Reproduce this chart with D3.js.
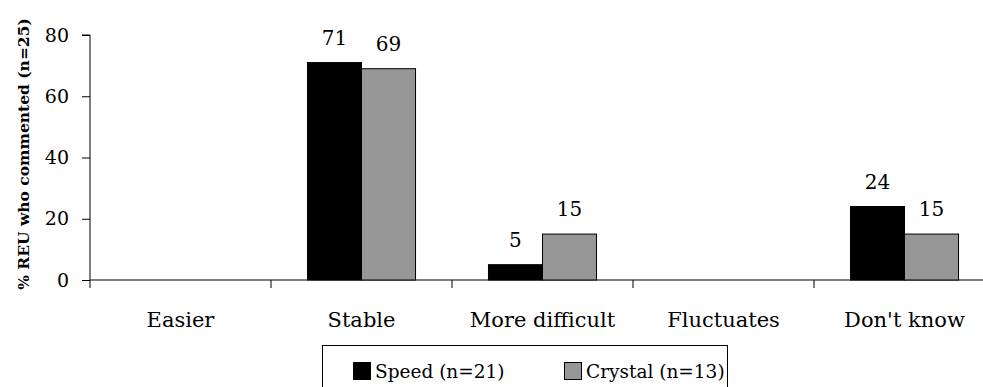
<!DOCTYPE html>
<html lang="en">
<head>
  <meta charset="UTF-8">
  <title>REU comments</title>
  <script src="https://d3js.org/d3.v7.min.js"></script>
  <style>
    body { margin: 0; background: #fff; }
    svg { display: block; }
    svg text { font-family: 'DejaVu Serif', serif; fill: #000; }
  </style>
</head>
<body>
  <div class="chart"></div>
  <script>
    const categories = ['Easier', 'Stable', 'More difficult', 'Fluctuates', "Don't know"];
    const seriesNames = ['Speed (n=21)', 'Crystal (n=13)'];
    const speed = [null, 71, 5, null, 24];
    const crystal = [null, 69, 15, null, 15];
    const yTicks = [0, 20, 40, 60, 80];
    const colors = ['#000000', '#969696'];

    const W = 983, H = 387;
    const plotLeft = 90, plotTop = 35, plotBottom = 280;
    const band = 181;

    const svg = d3.select('.chart').append('svg')
      .attr('width', W).attr('height', H);

    const x = d3.scaleBand().domain(categories)
      .range([plotLeft, plotLeft + band * categories.length]).paddingInner(0).paddingOuter(0);
    const xs = d3.scaleBand().domain(seriesNames).range([0, band]).paddingInner(0).paddingOuter(0.675);
    const y = d3.scaleLinear().domain([0, 80]).range([plotBottom, plotTop]);

    // y axis
    const ya = svg.append('g').attr('transform', `translate(${plotLeft},0)`)
      .call(d3.axisLeft(y).tickValues(yTicks).tickSize(8).tickPadding(13));
    ya.selectAll('text').attr('font-size', 19);
    ya.select('.domain').attr('d', `M-8,${plotTop}H0V${plotBottom}`);

    // x axis
    const xa = svg.append('g').attr('transform', `translate(0,${plotBottom})`);
    xa.append('line').attr('x1', plotLeft).attr('x2', W).attr('y1', 0).attr('y2', 0).attr('stroke', '#000');
    d3.range(categories.length + 1).forEach(i => {
      const xx = plotLeft + i * band;
      xa.append('line').attr('x1', xx).attr('x2', xx).attr('y1', 0).attr('y2', 8).attr('stroke', '#000');
    });
    xa.selectAll('text.cat').data(categories).join('text').attr('class', 'cat')
      .attr('x', d => x(d) + band / 2).attr('y', 47).attr('text-anchor', 'middle')
      .attr('font-size', 21).text(d => d);

    // bars
    const series = [speed, crystal];
    series.forEach((vals, si) => {
      const g = svg.append('g');
      categories.forEach((c, ci) => {
        const v = vals[ci];
        if (v == null) return;
        g.append('rect')
          .attr('x', x(c) + xs(seriesNames[si]))
          .attr('y', y(v))
          .attr('width', xs.bandwidth())
          .attr('height', y(0) - y(v))
          .attr('fill', colors[si]).attr('stroke', '#000').attr('stroke-width', 1);
        g.append('text')
          .attr('x', x(c) + xs(seriesNames[si]) + xs.bandwidth() / 2)
          .attr('y', y(v) - 18).attr('text-anchor', 'middle')
          .attr('font-size', 20).text(v);
      });
    });

    // y title
    svg.append('text').attr('transform', `translate(29,154) rotate(-90)`)
      .attr('text-anchor', 'middle').attr('font-size', 15.5).attr('font-weight', 'bold')
      .text('% REU who commented (n=25)');

    // legend
    const lg = svg.append('g');
    lg.append('rect').attr('x', 322.5).attr('y', 345.5).attr('width', 405).attr('height', 60)
      .attr('fill', 'none').attr('stroke', '#000');
    const lx = [353, 564];
    seriesNames.forEach((s, i) => {
      lg.append('rect').attr('x', lx[i] + 0.5).attr('y', 362.5).attr('width', 17).attr('height', 17)
        .attr('fill', colors[i]).attr('stroke', '#000');
      lg.append('text').attr('x', lx[i] + 22).attr('y', 378).attr('font-size', 18.5).text(s);
    });
  </script>
</body>
</html>
